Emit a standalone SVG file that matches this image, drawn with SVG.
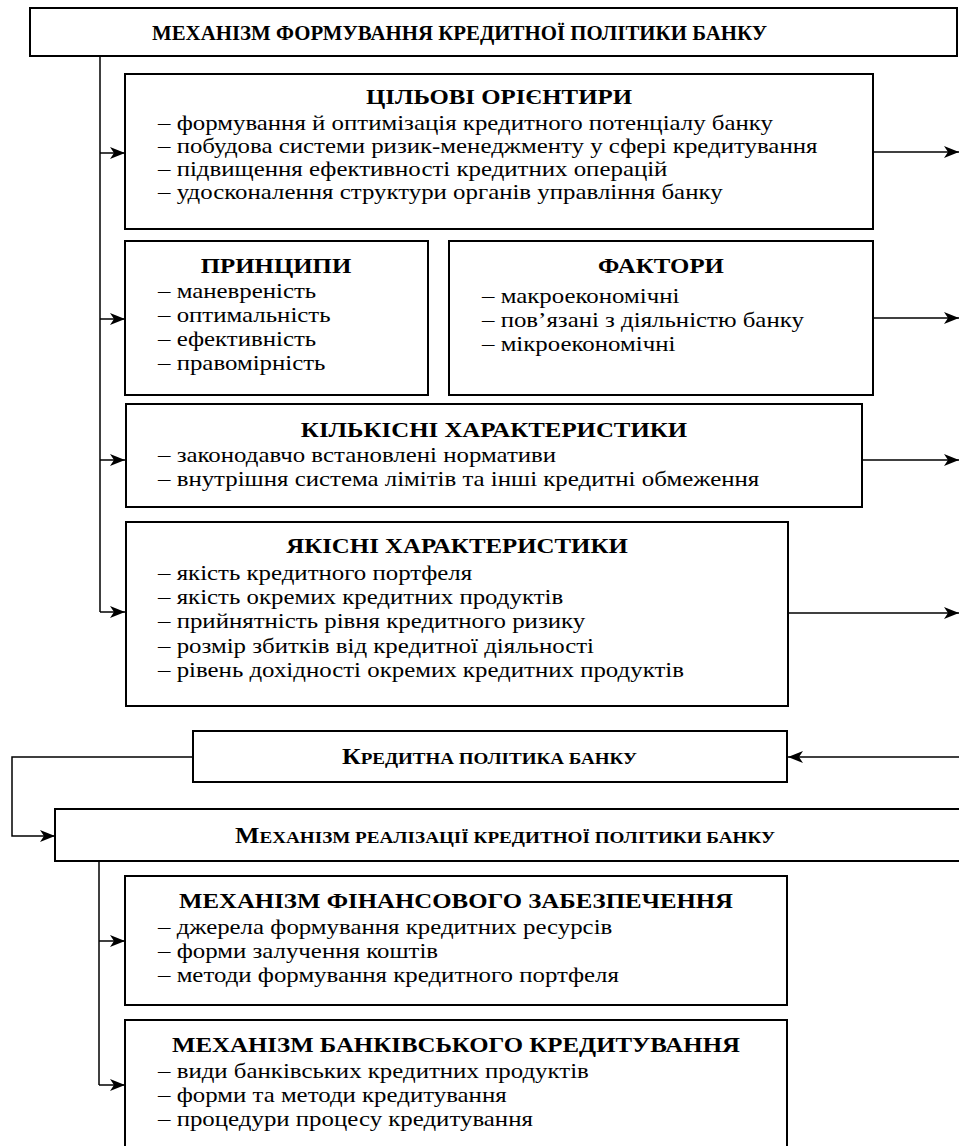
<svg xmlns="http://www.w3.org/2000/svg" width="959" height="1146" viewBox="0 0 959 1146">
<style>
.box{fill:#fff;stroke:#000;stroke-width:2}
.t{font-family:"Liberation Serif","Times New Roman",serif;font-size:22px;fill:#000}
.h{font-weight:bold;text-anchor:middle}
.b{font-weight:bold}
.c{fill:none;stroke:#000;stroke-width:1.5}
</style>
<defs>
<marker id="ah" markerUnits="userSpaceOnUse" markerWidth="16" markerHeight="12" refX="15" refY="6" orient="auto"><path d="M0,0 L15,6 L0,12 L4,6 z" fill="#000"/></marker>
</defs>
<g id="connectors">
<path class="c" d="M100,56 V612"/>
<path class="c" d="M100,153 H125" marker-end="url(#ah)"/>
<path class="c" d="M100,319 H125" marker-end="url(#ah)"/>
<path class="c" d="M100,460 H125" marker-end="url(#ah)"/>
<path class="c" d="M100,612 H125" marker-end="url(#ah)"/>
<path class="c" d="M873,152 H959" marker-end="url(#ah)"/>
<path class="c" d="M873,318 H959" marker-end="url(#ah)"/>
<path class="c" d="M862,460 H959" marker-end="url(#ah)"/>
<path class="c" d="M788,613 H959" marker-end="url(#ah)"/>
<path class="c" d="M959,757 H788" marker-end="url(#ah)"/>
<path class="c" d="M193,757 H12 V836 H55" marker-end="url(#ah)"/>
<path class="c" d="M99,861 V1085"/>
<path class="c" d="M99,941 H125" marker-end="url(#ah)"/>
<path class="c" d="M99,1085 H125" marker-end="url(#ah)"/>
</g>
<g id="title">
<rect class="box" x="30" y="8" width="927" height="48"/>
<text class="t b" x="152" y="40" textLength="615" lengthAdjust="spacingAndGlyphs">МЕХАНІЗМ ФОРМУВАННЯ КРЕДИТНОЇ ПОЛІТИКИ БАНКУ</text>
</g>
<g id="targets">
<rect class="box" x="125" y="74" width="748" height="155"/>
<text class="t h" transform="translate(499,104) scale(1.13,1)">ЦІЛЬОВІ ОРІЄНТИРИ</text>
<text class="t" transform="translate(158,130) scale(1.13,1)">– формування й оптимізація кредитного потенціалу банку</text>
<text class="t" transform="translate(158,153) scale(1.13,1)">– побудова системи ризик-менеджменту у сфері кредитування</text>
<text class="t" transform="translate(158,176) scale(1.13,1)">– підвищення ефективності кредитних операцій</text>
<text class="t" transform="translate(158,199) scale(1.13,1)">– удосконалення структури органів управління банку</text>
</g>
<g id="principles">
<rect class="box" x="125" y="241" width="303" height="154"/>
<text class="t h" transform="translate(276,273) scale(1.13,1)">ПРИНЦИПИ</text>
<text class="t" transform="translate(158,298) scale(1.13,1)">– маневреність</text>
<text class="t" transform="translate(158,322) scale(1.13,1)">– оптимальність</text>
<text class="t" transform="translate(158,346) scale(1.13,1)">– ефективність</text>
<text class="t" transform="translate(158,370) scale(1.13,1)">– правомірність</text>
</g>
<g id="factors">
<rect class="box" x="449" y="241" width="424" height="154"/>
<text class="t h" transform="translate(661,273) scale(1.13,1)">ФАКТОРИ</text>
<text class="t" transform="translate(482,303) scale(1.13,1)">– макроекономічні</text>
<text class="t" transform="translate(482,327) scale(1.13,1)">– пов’язані з діяльністю банку</text>
<text class="t" transform="translate(482,351) scale(1.13,1)">– мікроекономічні</text>
</g>
<g id="quantitative">
<rect class="box" x="126" y="404" width="736" height="103"/>
<text class="t h" transform="translate(494,437) scale(1.13,1)">КІЛЬКІСНІ ХАРАКТЕРИСТИКИ</text>
<text class="t" transform="translate(158,462) scale(1.13,1)">– законодавчо встановлені нормативи</text>
<text class="t" transform="translate(158,486) scale(1.13,1)">– внутрішня система лімітів та інші кредитні обмеження</text>
</g>
<g id="qualitative">
<rect class="box" x="126" y="522" width="662" height="184"/>
<text class="t h" transform="translate(457,553) scale(1.13,1)">ЯКІСНІ ХАРАКТЕРИСТИКИ</text>
<text class="t" transform="translate(158,580) scale(1.13,1)">– якість кредитного портфеля</text>
<text class="t" transform="translate(158,604) scale(1.13,1)">– якість окремих кредитних продуктів</text>
<text class="t" transform="translate(158,628) scale(1.13,1)">– прийнятність рівня кредитного ризику</text>
<text class="t" transform="translate(158,653) scale(1.13,1)">– розмір збитків від кредитної діяльності</text>
<text class="t" transform="translate(158,677) scale(1.13,1)">– рівень дохідності окремих кредитних продуктів</text>
</g>
<g id="credit-policy">
<rect class="box" x="193" y="731" width="594" height="51"/>
<text class="t b" x="342" y="764" textLength="295" lengthAdjust="spacingAndGlyphs"><tspan font-size="23">К</tspan><tspan font-size="17">РЕДИТНА ПОЛІТИКА БАНКУ</tspan></text>
</g>
<g id="implementation">
<rect class="box" x="55" y="809" width="920" height="52"/>
<text class="t b" x="235" y="843" textLength="540" lengthAdjust="spacingAndGlyphs"><tspan font-size="23">М</tspan><tspan font-size="17">ЕХАНІЗМ РЕАЛІЗАЦІЇ КРЕДИТНОЇ ПОЛІТИКИ БАНКУ</tspan></text>
</g>
<g id="financial">
<rect class="box" x="125" y="876" width="662" height="129"/>
<text class="t h" transform="translate(456,908) scale(1.13,1)">МЕХАНІЗМ ФІНАНСОВОГО ЗАБЕЗПЕЧЕННЯ</text>
<text class="t" transform="translate(158,934) scale(1.13,1)">– джерела формування кредитних ресурсів</text>
<text class="t" transform="translate(158,958) scale(1.13,1)">– форми залучення коштів</text>
<text class="t" transform="translate(158,982) scale(1.13,1)">– методи формування кредитного портфеля</text>
</g>
<g id="lending">
<rect class="box" x="125" y="1020" width="662" height="140"/>
<text class="t h" transform="translate(456,1052) scale(1.13,1)">МЕХАНІЗМ БАНКІВСЬКОГО КРЕДИТУВАННЯ</text>
<text class="t" transform="translate(158,1078) scale(1.13,1)">– види банківських кредитних продуктів</text>
<text class="t" transform="translate(158,1102) scale(1.13,1)">– форми та методи кредитування</text>
<text class="t" transform="translate(158,1126) scale(1.13,1)">– процедури процесу кредитування</text>
</g>
</svg>
